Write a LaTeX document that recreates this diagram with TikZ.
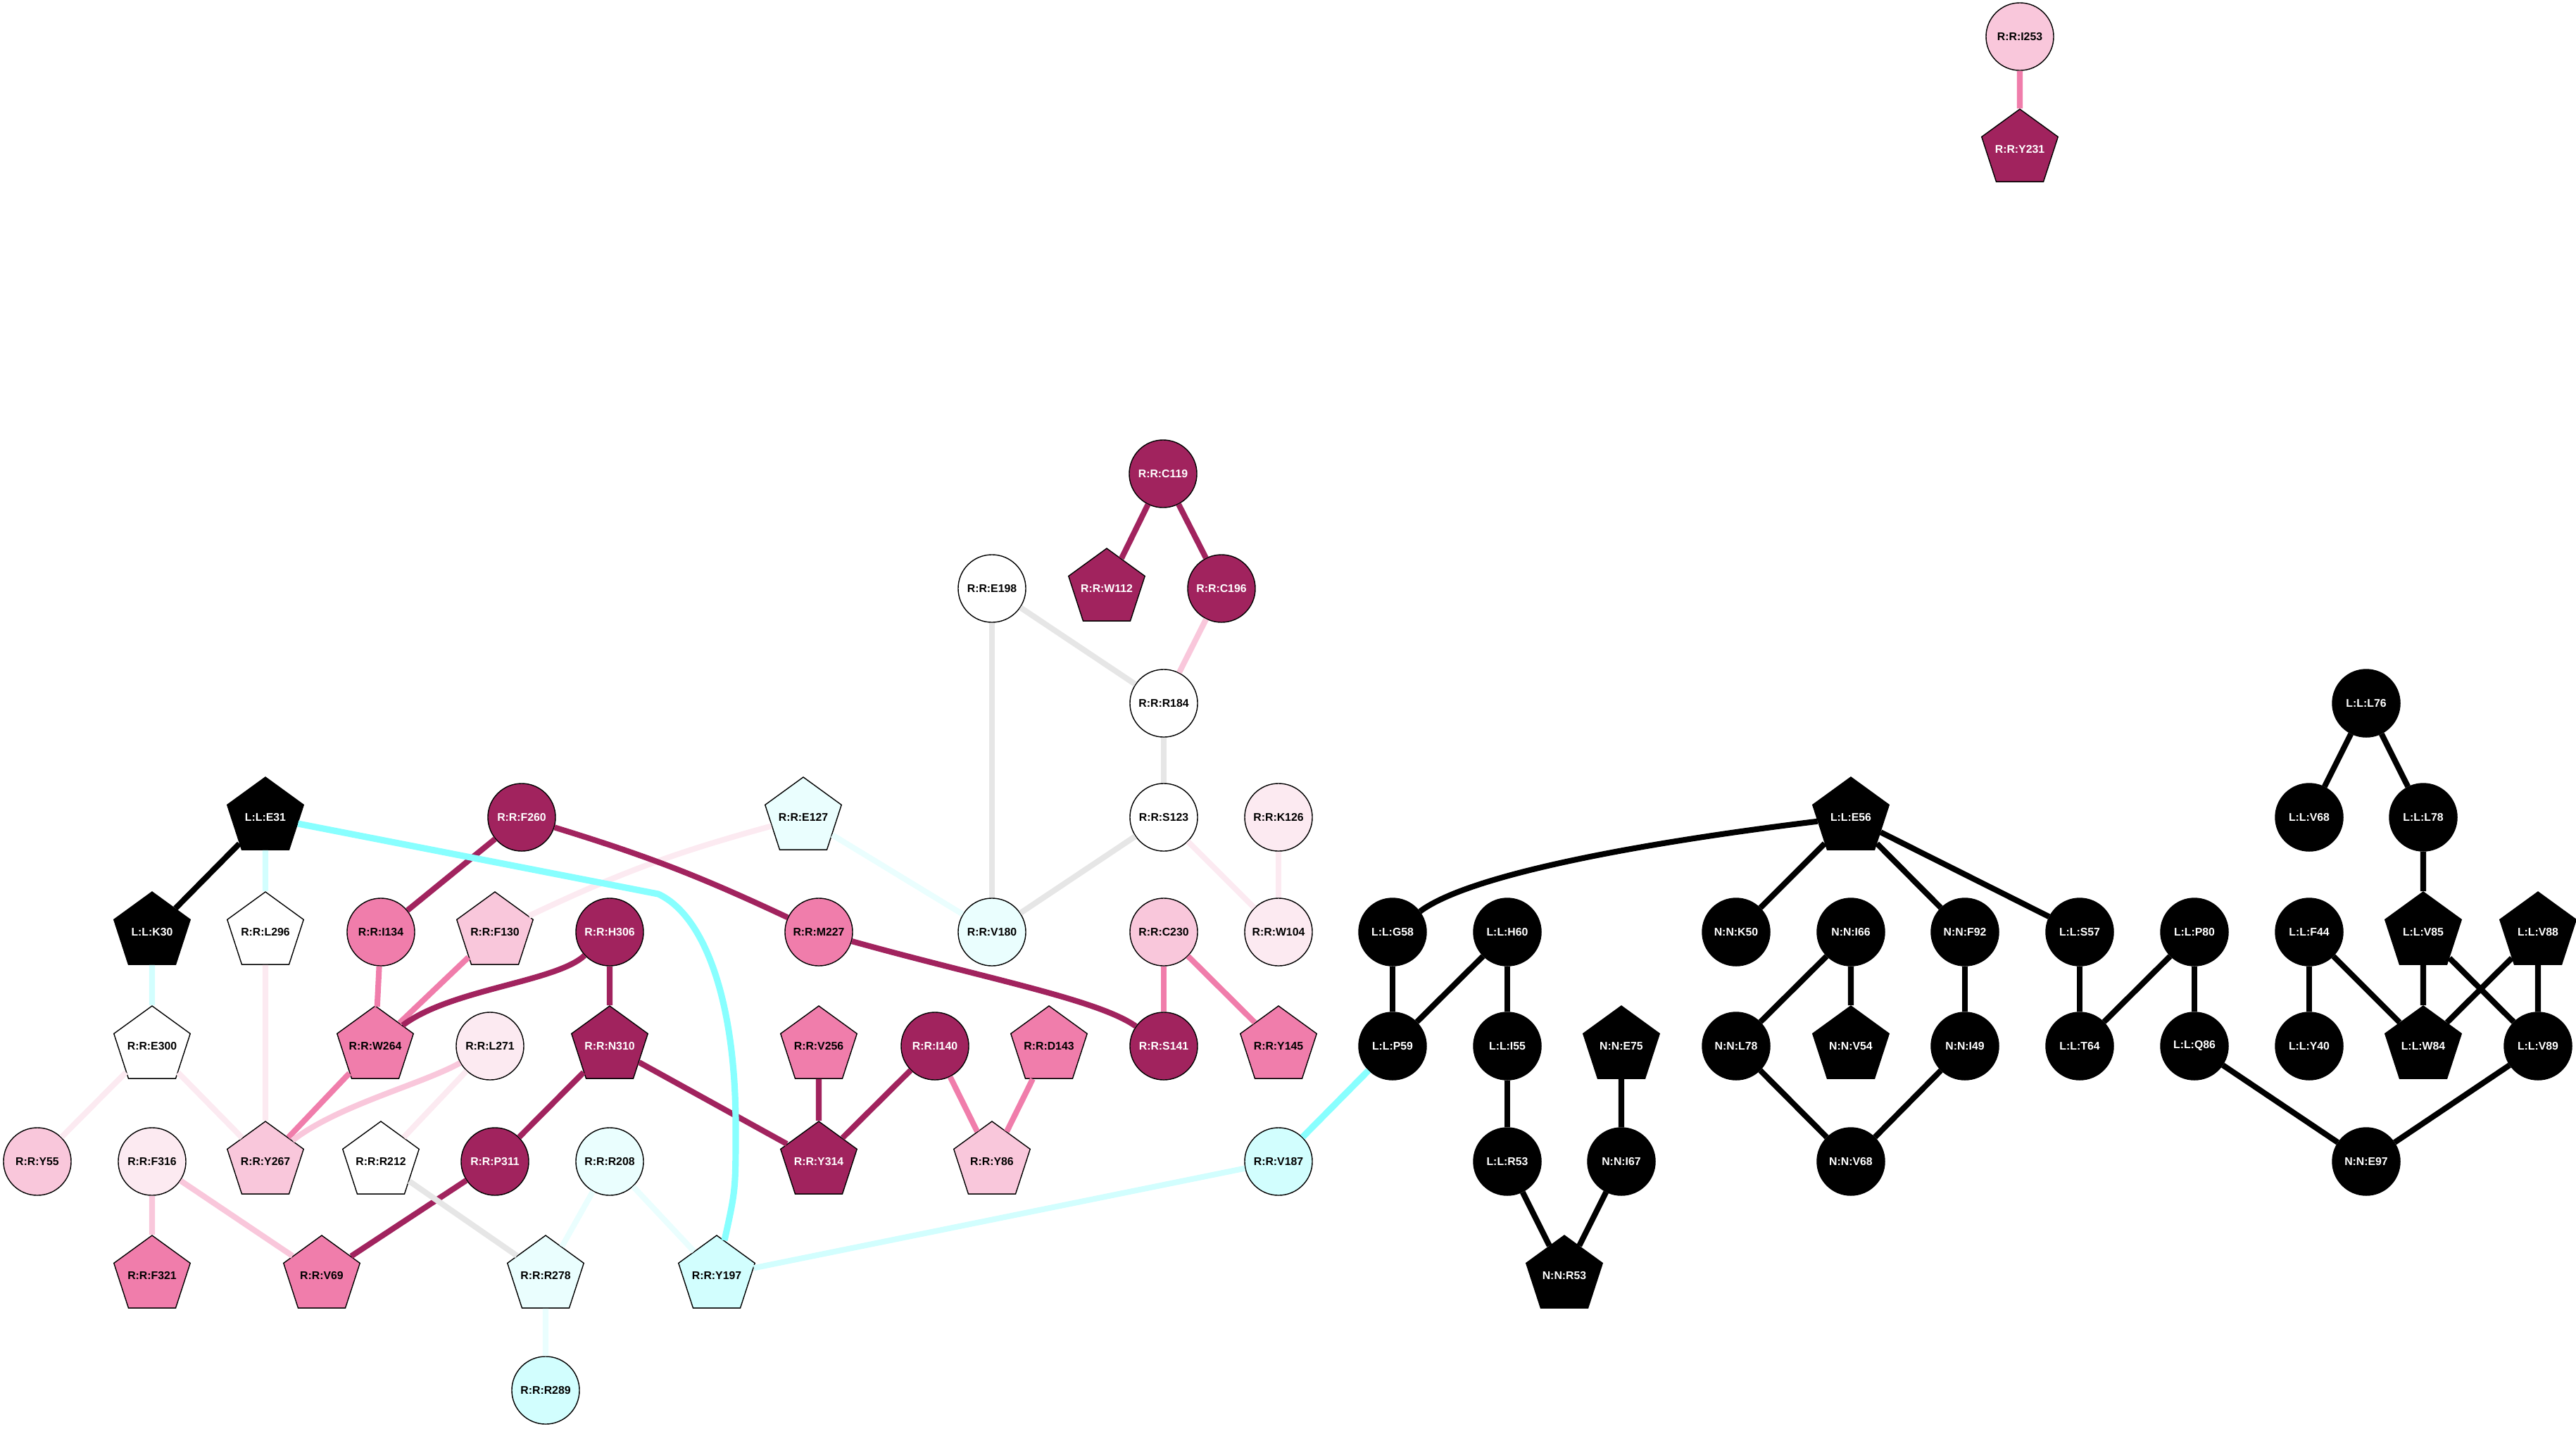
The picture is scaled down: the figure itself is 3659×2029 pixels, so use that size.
\documentclass[tikz,border=0pt]{standalone}
\usepackage{fontspec}
\setmainfont{Liberation Sans}
\usetikzlibrary{shapes.geometric}
\definecolor{cDark}{HTML}{A1235E}
\definecolor{cMid}{HTML}{F07DAB}
\definecolor{cLight}{HTML}{F9C7DB}
\definecolor{cPale}{HTML}{FCEAF1}
\definecolor{cIce}{HTML}{EAFEFE}
\definecolor{cAqua}{HTML}{D2FEFE}
\definecolor{cCyan}{HTML}{88FFFF}
\definecolor{cGrey}{HTML}{E6E6E6}
\tikzset{
  lbl/.style={font=\fontsize{4.5}{5}\selectfont\bfseries, draw=black, line width=0.4pt, inner sep=0pt},
  res/.style={lbl, circle, minimum size=0.96cm},
  pent/.style={lbl, regular polygon, regular polygon sides=5, inner sep=-3pt, minimum size=1.14cm},
  bk/.style={fill=black, text=white},
  dk/.style={fill=cDark, text=white},
  md/.style={fill=cMid},
  lt/.style={fill=cLight},
  pl/.style={fill=cPale},
  wt/.style={fill=white},
  ic/.style={fill=cIce},
  aq/.style={fill=cAqua},
  edge/.style={line width=2.3pt},
  bkedge/.style={edge, draw=black},
  dkedge/.style={edge, draw=cDark},
  mdedge/.style={edge, draw=cMid},
  ltedge/.style={edge, draw=cLight},
  pledge/.style={edge, draw=cPale},
  iceedge/.style={edge, draw=cIce},
  aqedge/.style={edge, draw=cAqua},
  cyedge/.style={line width=2.6pt, draw=cCyan},
  gredge/.style={edge, draw=cGrey}
}
\begin{document}
\begin{tikzpicture}[x=0.01cm, y=-0.01cm]
		\useasboundingbox (0,0) rectangle (3659,2029);
		% receptor R
		\node[res, lt] (RI253) at (2869,52) {R:R:I253};
		\node[pent, dk] (RY231) at (2869,212) {R:R:Y231};
		\node[res, dk] (RC119) at (1652,673) {R:R:C119};
		\node[res, wt] (RE198) at (1409,836) {R:R:E198};
		\node[pent, dk] (RW112) at (1572,836) {R:R:W112};
		\node[res, dk] (RC196) at (1735,836) {R:R:C196};
		\node[res, wt] (RR184) at (1653,999) {R:R:R184};
		\node[res, dk] (RF260) at (741,1161) {R:R:F260};
		\node[pent, ic] (RE127) at (1141,1161) {R:R:E127};
		\node[res, wt] (RS123) at (1653,1161) {R:R:S123};
		\node[res, pl] (RK126) at (1816,1161) {R:R:K126};
		\node[pent, wt] (RL296) at (377,1324) {R:R:L296};
		\node[res, md] (RI134) at (541,1324) {R:R:I134};
		\node[pent, lt] (RF130) at (703,1324) {R:R:F130};
		\node[res, dk] (RH306) at (866,1324) {R:R:H306};
		\node[res, md] (RM227) at (1163,1324) {R:R:M227};
		\node[res, ic] (RV180) at (1409,1324) {R:R:V180};
		\node[res, lt] (RC230) at (1653,1324) {R:R:C230};
		\node[res, pl] (RW104) at (1816,1324) {R:R:W104};
		\node[pent, wt] (RE300) at (216,1486) {R:R:E300};
		\node[pent, md] (RW264) at (533,1486) {R:R:W264};
		\node[res, pl] (RL271) at (696,1486) {R:R:L271};
		\node[pent, dk] (RN310) at (866,1486) {R:R:N310};
		\node[pent, md] (RV256) at (1163,1486) {R:R:V256};
		\node[res, dk] (RI140) at (1328,1486) {R:R:I140};
		\node[pent, md] (RD143) at (1490,1486) {R:R:D143};
		\node[res, dk] (RS141) at (1653,1486) {R:R:S141};
		\node[pent, md] (RY145) at (1816,1486) {R:R:Y145};
		\node[res, lt] (RY55) at (53,1650) {R:R:Y55};
		\node[res, pl] (RF316) at (216,1650) {R:R:F316};
		\node[pent, lt] (RY267) at (377,1650) {R:R:Y267};
		\node[pent, wt] (RR212) at (541,1650) {R:R:R212};
		\node[res, dk] (RP311) at (703,1650) {R:R:P311};
		\node[res, ic] (RR208) at (866,1650) {R:R:R208};
		\node[pent, dk] (RY314) at (1163,1650) {R:R:Y314};
		\node[pent, lt] (RY86) at (1409,1650) {R:R:Y86};
		\node[res, aq] (RV187) at (1816,1650) {R:R:V187};
		\node[pent, md] (RF321) at (216,1812) {R:R:F321};
		\node[pent, md] (RV69) at (457,1812) {R:R:V69};
		\node[pent, ic] (RR278) at (775,1812) {R:R:R278};
		\node[pent, aq] (RY197) at (1018,1812) {R:R:Y197};
		\node[res, aq] (RR289) at (775,1975) {R:R:R289};
		% ligand L and nanobody N
		\node[pent, bk] (LE31) at (377,1161) {L:L:E31};
		\node[pent, bk] (LK30) at (216,1324) {L:L:K30};
		\node[res, bk] (LL76) at (3361,999) {L:L:L76};
		\node[res, bk] (LV68) at (3280,1161) {L:L:V68};
		\node[res, bk] (LL78) at (3442,1161) {L:L:L78};
		\node[pent, bk] (LE56) at (2629,1161) {L:L:E56};
		\node[res, bk] (LG58) at (1978,1324) {L:L:G58};
		\node[res, bk] (LH60) at (2141,1324) {L:L:H60};
		\node[res, bk] (NK50) at (2466,1324) {N:N:K50};
		\node[res, bk] (NI66) at (2629,1324) {N:N:I66};
		\node[res, bk] (NF92) at (2791,1324) {N:N:F92};
		\node[res, bk] (LS57) at (2954,1324) {L:L:S57};
		\node[res, bk] (LP80) at (3117,1324) {L:L:P80};
		\node[res, bk] (LF44) at (3280,1324) {L:L:F44};
		\node[pent, bk] (LV85) at (3442,1324) {L:L:V85};
		\node[pent, bk] (LV88) at (3605,1324) {L:L:V88};
		\node[res, bk] (LP59) at (1978,1486) {L:L:P59};
		\node[res, bk] (LI55) at (2141,1486) {L:L:I55};
		\node[pent, bk] (NE75) at (2303,1486) {N:N:E75};
		\node[res, bk] (NL78) at (2466,1486) {N:N:L78};
		\node[pent, bk] (NV54) at (2629,1486) {N:N:V54};
		\node[res, bk] (NI49) at (2791,1486) {N:N:I49};
		\node[res, bk] (LT64) at (2954,1486) {L:L:T64};
		\node[res, bk] (LQ86) at (3117,1486) {L:L:Q86};
		\node[res, bk] (LY40) at (3280,1486) {L:L:Y40};
		\node[pent, bk] (LW84) at (3442,1486) {L:L:W84};
		\node[res, bk] (LV89) at (3605,1486) {L:L:V89};
		\node[res, bk] (LR53) at (2141,1650) {L:L:R53};
		\node[res, bk] (NI67) at (2303,1650) {N:N:I67};
		\node[res, bk] (NV68) at (2629,1650) {N:N:V68};
		\node[res, bk] (NE97) at (3361,1650) {N:N:E97};
		\node[pent, bk] (NR53) at (2222,1812) {N:N:R53};
		%
		\draw [mdedge] (RI253) to (RY231);
		\draw [dkedge] (RC119) to (RW112);
		\draw [dkedge] (RC119) to (RC196);
		\draw [ltedge] (RC196) to (RR184);
		\draw [gredge] (RE198) to (RR184);
		\draw [gredge] (RE198) to (RV180);
		\draw [gredge] (RR184) to (RS123);
		\draw [gredge] (RS123) to (RV180);
		\draw [pledge] (RS123) to (RW104);
		\draw [pledge] (RK126) to (RW104);
		\draw [iceedge] (RE127) to (RV180);
		\draw [pledge] (RE127) to[bend right=5] (RF130);
		\draw [mdedge] (RC230) to (RS141);
		\draw [mdedge] (RC230) to (RY145);
		\draw [dkedge] (RF260) to (RI134);
		\draw [dkedge] (RF260) to[bend left=4] (RM227);
		\draw [dkedge] (RM227) .. controls (1400,1390) and (1560,1420) .. (RS141);
		\draw [mdedge] (RI134) to (RW264);
		\draw [mdedge] (RF130) to (RW264);
		\draw [dkedge] (RH306) .. controls (790,1395) and (640,1405) .. (RW264);
		\draw [dkedge] (RH306) to (RN310);
		\draw [mdedge] (RW264) to (RY267);
		\draw [ltedge] (RL271) .. controls (600,1540) and (480,1570) .. (RY267);
		\draw [pledge] (RL271) to (RR212);
		\draw [dkedge] (RN310) to (RP311);
		\draw [dkedge] (RN310) to (RY314);
		\draw [dkedge] (RV256) to (RY314);
		\draw [dkedge] (RI140) to (RY314);
		\draw [mdedge] (RI140) to (RY86);
		\draw [mdedge] (RD143) to (RY86);
		\draw [pledge] (RL296) to (RY267);
		\draw [pledge] (RE300) to (RY55);
		\draw [pledge] (RE300) to (RY267);
		\draw [ltedge] (RF316) to (RF321);
		\draw [ltedge] (RF316) to (RV69);
		\draw [dkedge] (RP311) to (RV69);
		\draw [gredge] (RR212) to (RR278);
		\draw [iceedge] (RR208) to (RR278);
		\draw [iceedge] (RR208) to (RY197);
		\draw [iceedge] (RR278) to (RR289);
		\draw [aqedge] (RY197) to (RV187);
		\draw [cyedge] (RV187) to (LP59);
		\draw [cyedge] (LE31) -- (935,1270) .. controls (1000,1300) and (1045,1420) .. (1045,1600) .. controls (1045,1690) .. (RY197);
		\draw [aqedge] (LE31) to (RL296);
		\draw [bkedge] (LE31) to (LK30);
		\draw [aqedge] (LK30) to (RE300);
		%
		\draw [bkedge] (LE56) .. controls (2350,1195) and (2090,1240) .. (LG58);
		\draw [bkedge] (LE56) to (NK50);
		\draw [bkedge] (LE56) to (NF92);
		\draw [bkedge] (LE56) to (LS57);
		\draw [bkedge] (LG58) to (LP59);
		\draw [bkedge] (LH60) to (LP59);
		\draw [bkedge] (LH60) to (LI55);
		\draw [bkedge] (LI55) to (LR53);
		\draw [bkedge] (LR53) to (NR53);
		\draw [bkedge] (NE75) to (NI67);
		\draw [bkedge] (NI67) to (NR53);
		\draw [bkedge] (NI66) to (NL78);
		\draw [bkedge] (NI66) to (NV54);
		\draw [bkedge] (NF92) to (NI49);
		\draw [bkedge] (NL78) to (NV68);
		\draw [bkedge] (NI49) to (NV68);
		\draw [bkedge] (LS57) to (LT64);
		\draw [bkedge] (LP80) to (LT64);
		\draw [bkedge] (LP80) to (LQ86);
		\draw [bkedge] (LQ86) to (NE97);
		\draw [bkedge] (LV89) to (NE97);
		\draw [bkedge] (LL76) to (LV68);
		\draw [bkedge] (LL76) to (LL78);
		\draw [bkedge] (LL78) to (LV85);
		\draw [bkedge] (LV85) to (LW84);
		\draw [bkedge] (LV85) to (LV89);
		\draw [bkedge] (LF44) to (LY40);
		\draw [bkedge] (LF44) to (LW84);
		\draw [bkedge] (LV88) to (LW84);
		\draw [bkedge] (LV88) to (LV89);
	\end{tikzpicture}
\end{document}
